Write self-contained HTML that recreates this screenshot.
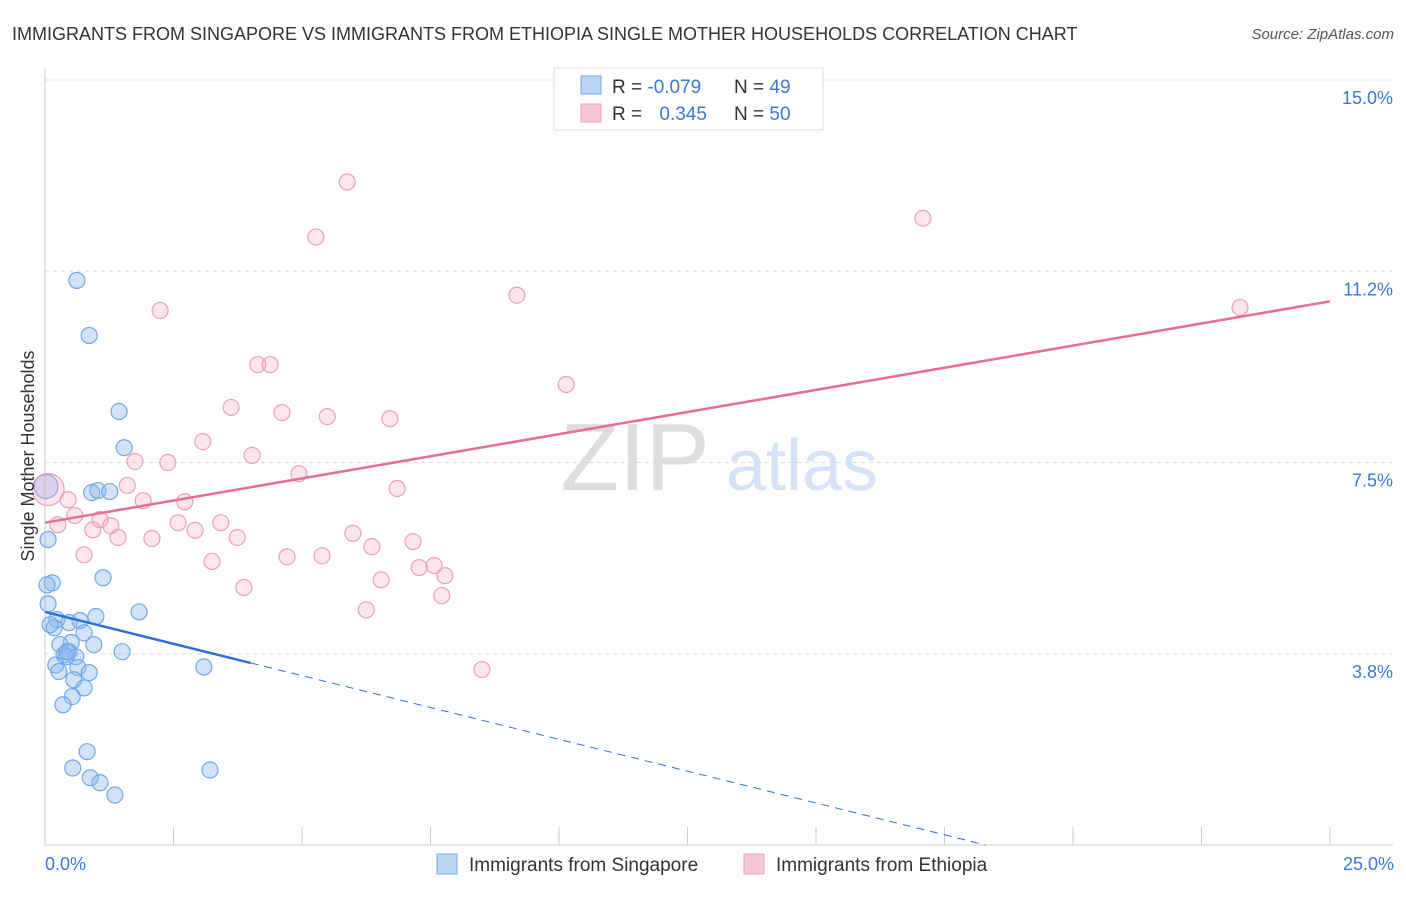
<!DOCTYPE html>
<html><head><meta charset="utf-8"><style>
body{margin:0;background:#fff;font-family:"Liberation Sans",sans-serif;}
svg text{font-family:"Liberation Sans",sans-serif;}
</style></head><body>
<svg id="chart" width="1406" height="892" xmlns="http://www.w3.org/2000/svg">
<text x="12" y="40" font-size="18" fill="#333">IMMIGRANTS FROM SINGAPORE VS IMMIGRANTS FROM ETHIOPIA SINGLE MOTHER HOUSEHOLDS CORRELATION CHART</text>
<text x="1394" y="39" font-size="15" fill="#555" text-anchor="end" font-style="italic">Source: ZipAtlas.com</text>
<g>
<text x="635" y="490" font-size="96" fill="#ddd" text-anchor="middle" font-family="Liberation Serif">ZIP</text>
<text x="802" y="490" font-size="72" fill="#d4e3f5" text-anchor="middle">atlas</text>
</g>
<g id="grid"></g>
<g id="axes"></g>
<g id="marks"></g>
<text transform="translate(34,456) rotate(-90)" font-size="18" fill="#333" text-anchor="middle">Single Mother Households</text>
<text x="45" y="870" font-size="18" fill="#3b78d8">0.0%</text>
<text x="1394" y="870" font-size="18" fill="#3b78d8" text-anchor="end">25.0%</text>
<g>
<rect x="554" y="68" width="269" height="62" fill="#fff" stroke="#ddd"/>
<rect x="581" y="76" width="20" height="18" fill="#bcd5f3" stroke="#6fa8e6"/>
<rect x="581" y="104" width="20" height="18" fill="#f9c8d7" stroke="#eaa0b8"/>
<text x="612" y="93" font-size="19" fill="#333">R = <tspan fill="#3b78d8">-0.079</tspan></text>
<text x="734" y="93" font-size="19" fill="#333">N = <tspan fill="#3b78d8">49</tspan></text>
<text x="612" y="120" font-size="19" fill="#333">R = <tspan fill="#3b78d8" dx="12">0.345</tspan></text>
<text x="734" y="120" font-size="19" fill="#333">N = <tspan fill="#3b78d8">50</tspan></text>
</g>
<g>
<rect x="437" y="854" width="20" height="20" fill="#bcd5f3" stroke="#6fa8e6"/>
<text x="469" y="871" font-size="19" fill="#333">Immigrants from Singapore</text>
<rect x="744" y="854" width="20" height="20" fill="#f9c8d7" stroke="#eaa0b8"/>
<text x="776" y="871" font-size="19" fill="#333">Immigrants from Ethiopia</text>
</g>
</svg>
<script>
const yTicks=[3.75,7.5,11.25,15];
const yTickLabels=["3.8%","7.5%","11.2%","15.0%"];
const xTicks=[0,2.5,5,7.5,10,12.5,15,17.5,20,22.5,25];
const blueX=[0.62,0.86,1.44,1.54,0.91,1.03,1.26,0.06,0.14,0.04,1.13,0.06,1.83,0.99,0.23,0.68,0.47,0.18,0.76,0.51,0.95,0.29,1.50,0.37,0.47,0.60,0.41,0.21,0.64,3.09,0.27,0.86,0.56,0.76,0.53,0.35,0.82,0.54,3.21,0.88,1.07,1.36,0.43,0.10,0.02];
const blueY=[11.07,9.99,8.50,7.79,6.91,6.95,6.93,5.99,5.14,5.10,5.24,4.73,4.57,4.48,4.42,4.40,4.36,4.26,4.16,3.97,3.93,3.93,3.79,3.73,3.79,3.69,3.69,3.53,3.48,3.49,3.40,3.38,3.24,3.08,2.91,2.75,1.83,1.51,1.47,1.32,1.22,0.98,3.79,4.32,7.03];
const pinkX=[5.88,5.27,17.08,9.18,23.25,2.24,4.14,4.38,10.14,3.62,4.61,5.49,6.71,3.07,4.03,1.75,2.39,4.94,6.85,1.60,0.45,1.91,2.72,0.58,1.07,1.28,0.25,2.59,0.93,3.42,2.92,1.42,2.08,3.74,5.99,7.16,6.36,0.76,4.71,5.39,3.25,7.28,7.57,7.78,6.54,3.87,7.72,6.25,8.50,0.06];
const pinkY=[13.00,11.92,12.29,10.78,10.54,10.48,9.42,9.42,9.03,8.58,8.48,8.40,8.36,7.91,7.64,7.52,7.50,7.28,6.99,7.05,6.77,6.75,6.73,6.46,6.38,6.26,6.28,6.32,6.18,6.32,6.17,6.03,6.01,6.03,6.11,5.95,5.85,5.69,5.65,5.67,5.56,5.44,5.48,5.28,5.20,5.05,4.89,4.61,3.44,6.97];
const blueTrend=[[0,4.57],[4.0,3.57],[18.3,0]];
const pinkTrend=[[0,6.32],[25,10.66]];
const X0=45,X1=1330,Y0=845,Y1=80;
const sx=v=>X0+(v/25)*(X1-X0);
const sy=v=>Y0-(v/15)*(Y0-Y1);
const NS="http://www.w3.org/2000/svg";
function mk(parent,tag,attrs){const e=document.createElementNS(NS,tag);for(const k in attrs)e.setAttribute(k,attrs[k]);parent.appendChild(e);return e;}
const grid=document.getElementById('grid'),axes=document.getElementById('axes'),marks=document.getElementById('marks');
yTicks.forEach((t,i)=>{
 const l=mk(grid,'line',{x1:X0,x2:1393,y1:sy(t),y2:sy(t),stroke:'#ddd','stroke-dasharray':'4,4'});
 
 
 const tx=mk(grid,'text',{x:1393,y:sy(t)+24,'font-size':18,fill:'#3b78d8','text-anchor':'end'});
 tx.textContent=yTickLabels[i];
 
 
});
let a=mk(axes,'line',{x1:X0,x2:X0,y1:68,y2:Y0,stroke:'#ccc'});


a=mk(axes,'line',{x1:X0,x2:1393,y1:Y0,y2:Y0,stroke:'#ccc'});


xTicks.forEach(t=>{
 const l=mk(axes,'line',{x1:sx(t),x2:sx(t),y1:827,y2:Y0,stroke:'#ccc'});
 
 
});
blueX.forEach((v,i)=>{
 const big=i===blueX.length-1;
 const c=mk(marks,'circle',{cx:sx(v),cy:sy(blueY[i]),r:big?12:8,fill:'rgba(140,185,240,0.4)',stroke:'#6fa8e6','stroke-width':1.2});
 
 
});
pinkX.forEach((v,i)=>{
 const big=i===pinkX.length-1;
 const c=mk(marks,'circle',{cx:sx(v),cy:sy(pinkY[i]),r:big?16:8,fill:'rgba(245,170,195,0.3)',stroke:'#eaa0b8','stroke-width':1.2});
 
 
});
let t=mk(marks,'line',{x1:sx(blueTrend[0][0]),y1:sy(blueTrend[0][1]),x2:sx(blueTrend[1][0]),y2:sy(blueTrend[1][1]),stroke:'#2f6fd6','stroke-width':2.5});


t=mk(marks,'line',{x1:sx(blueTrend[1][0]),y1:sy(blueTrend[1][1]),x2:sx(blueTrend[2][0]),y2:sy(blueTrend[2][1]),stroke:'#2f6fd6','stroke-width':1,'stroke-dasharray':'8,6'});


t=mk(marks,'line',{x1:sx(pinkTrend[0][0]),y1:sy(pinkTrend[0][1]),x2:sx(pinkTrend[1][0]),y2:sy(pinkTrend[1][1]),stroke:'#e56e97','stroke-width':2.5});


</script>
</body></html>
